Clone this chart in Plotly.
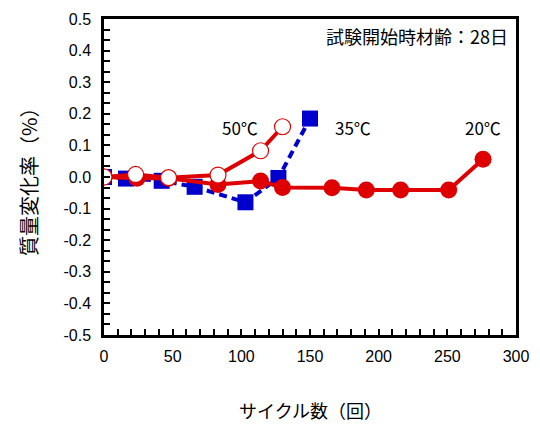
import numpy as np
import plotly.graph_objects as go

# Data
x20 = [0, 24, 47, 83, 114, 130, 166, 191, 216, 251, 276]
y20 = [0.0, -0.004, -0.004, -0.024, -0.013, -0.033, -0.034, -0.041, -0.041, -0.041, 0.056]
x35 = [0, 16, 42, 66, 103, 127, 150]
y35 = [0.0, -0.005, -0.012, -0.031, -0.080, -0.003, 0.185]
x50 = [0, 23, 47, 83, 114, 130]
y50 = [0.0, 0.008, -0.002, 0.006, 0.083, 0.159]

xticks = [0, 50, 100, 150, 200, 250, 300]
yticks = [0.5, 0.4, 0.3, 0.2, 0.1, 0.0, -0.1, -0.2, -0.3, -0.4, -0.5]
yticklabels = ["0.5", "0.4", "0.3", "0.2", "0.1", "0.0", "-0.1", "-0.2", "-0.3", "-0.4", "-0.5"]

RED = "rgb(222,0,0)"
BLUE = "rgb(0,0,204)"
JP = "Noto Sans CJK JP"
LAT = "Liberation Sans, Arial, sans-serif"

fig = go.Figure()
fig.add_trace(go.Scatter(x=x35, y=y35, mode="lines+markers",
                         line=dict(color=BLUE, width=4, dash="8px,5px"),
                         marker=dict(symbol="square", size=16, color=BLUE, line=dict(width=0))))
fig.add_trace(go.Scatter(x=x20, y=y20, mode="lines+markers",
                         line=dict(color=RED, width=4),
                         marker=dict(symbol="circle", size=17, color=RED, line=dict(width=0))))
fig.add_trace(go.Scatter(x=x50, y=y50, mode="lines+markers",
                         line=dict(color=RED, width=4),
                         marker=dict(symbol="circle", size=16, color="white", line=dict(width=1.2, color=RED))))

minor_y = [v for v in np.round(np.arange(-0.5, 0.5001, 0.1 / 3), 4)]

fig.update_layout(
    width=540, height=429,
    margin=dict(l=104, r=24, t=11, b=94),
    paper_bgcolor="white", plot_bgcolor="white",
    showlegend=False,
    font=dict(family=LAT, size=16, color="black"),
    xaxis=dict(range=[0, 300], tickvals=xticks, ticks="inside", ticklen=6, tickwidth=2,
               tickcolor="black", showline=True, linewidth=2.5, linecolor="black", mirror=True,
               showgrid=False, zeroline=False, ticklabelstandoff=5,
               minor=dict(dtick=10, ticks="inside", ticklen=6, tickwidth=2, tickcolor="black", showgrid=False),
               tickfont=dict(family=LAT, size=16, color="black")),
    yaxis=dict(range=[-0.5, 0.5], tickvals=yticks, ticktext=yticklabels, ticks="inside", ticklen=6,
               tickwidth=2, tickcolor="black", showline=True, linewidth=2.5, linecolor="black",
               mirror=True, showgrid=False, zeroline=False, ticklabelstandoff=7,
               minor=dict(tickvals=minor_y, ticks="inside", ticklen=6, tickwidth=2, tickcolor="black", showgrid=False),
               tickfont=dict(family=LAT, size=16, color="black")),
)

fig.add_annotation(text="質量変化率（%）", xref="paper", yref="paper", x=0, y=0.5,
                   xanchor="center", yanchor="middle",
                   xshift=-76, textangle=-90, showarrow=False, font=dict(family=JP, size=20, color="black"))
fig.add_annotation(text="サイクル数（回）", xref="paper", yref="paper", x=0.5, y=0,
                   xanchor="center", yanchor="middle",
                   yshift=-75, showarrow=False, font=dict(family=JP, size=18, color="black"))
fig.add_annotation(text="試験開始時材齢：28日", xref="paper", yref="paper", x=0.985, y=0.947,
                   xanchor="right", yanchor="middle", showarrow=False, font=dict(family=JP, size=18, color="black"))
fig.add_annotation(text="50℃", x=99, y=0.158, showarrow=False, font=dict(family=JP, size=17, color="black"))
fig.add_annotation(text="35℃", x=181, y=0.158, showarrow=False, font=dict(family=JP, size=17, color="black"))
fig.add_annotation(text="20℃", x=276, y=0.158, showarrow=False, font=dict(family=JP, size=17, color="black"))

fig.write_html("out.html", config={"displayModeBar": False},
               post_script="document.body.style.margin='0';document.body.style.overflow='hidden';")
